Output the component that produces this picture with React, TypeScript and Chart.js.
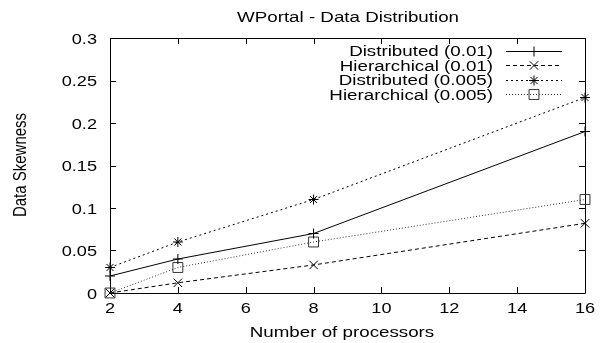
import React, { useEffect, useRef } from "react";
import { Chart, registerables } from "chart.js";

Chart.register(...registerables);

const titleText = "WPortal - Data Distribution";
const xAxisLabel = "Number of processors";
const yAxisLabel = "Data Skewness";
const processors = [2, 4, 8, 16];
const distributed001 = [0.02, 0.04, 0.07, 0.19];
const hierarchical001 = [0, 0.012, 0.033, 0.082];
const distributed0005 = [0.03, 0.06, 0.11, 0.23];
const hierarchical0005 = [0, 0.03, 0.06, 0.11];
const seriesLabels = [
  "Distributed (0.01)",
  "Hierarchical (0.01)",
  "Distributed (0.005)",
  "Hierarchical (0.005)",
];
const xTicks = [2, 4, 6, 8, 10, 12, 14, 16];
const yTicks = [0, 0.05, 0.1, 0.15, 0.2, 0.25, 0.3];
const yTickLabels = ["0", "0.05", "0.1", "0.15", "0.2", "0.25", "0.3"];

const FONT = "'Liberation Sans', Arial, Helvetica, sans-serif";
const SX = 1.21;

const seriesValues = [distributed001, hierarchical001, distributed0005, hierarchical0005];
const seriesDash = [[], [4, 3], [2, 3], [1, 2]];
const seriesColor = ["#000000", "#000000", "#000000", "#333333"];
const seriesMarker = ["cross", "crossRot", "star", "rect"];
const seriesRadius = [5, 6, 5, 7];

function drawMarker(ctx: CanvasRenderingContext2D, kind: string, x: number, y: number, r: number) {
  ctx.save();
  ctx.setLineDash([]);
  ctx.beginPath();
  const d = r * 0.707;
  if (kind === "cross") {
    ctx.moveTo(x - r, y);
    ctx.lineTo(x + r, y);
    ctx.moveTo(x, y - r);
    ctx.lineTo(x, y + r);
  } else if (kind === "crossRot") {
    ctx.moveTo(x - d, y - d);
    ctx.lineTo(x + d, y + d);
    ctx.moveTo(x - d, y + d);
    ctx.lineTo(x + d, y - d);
  } else if (kind === "star") {
    ctx.moveTo(x - r, y);
    ctx.lineTo(x + r, y);
    ctx.moveTo(x, y - r);
    ctx.lineTo(x, y + r);
    ctx.moveTo(x - d, y - d);
    ctx.lineTo(x + d, y + d);
    ctx.moveTo(x - d, y + d);
    ctx.lineTo(x + d, y - d);
  } else {
    ctx.rect(x - d, y - d, 2 * d, 2 * d);
  }
  ctx.stroke();
  ctx.restore();
}

function text(
  ctx: CanvasRenderingContext2D,
  s: string,
  x: number,
  y: number,
  align: CanvasTextAlign,
  size: number,
  rotate = false
) {
  ctx.save();
  ctx.translate(x, y);
  ctx.scale(SX, 1);
  if (rotate) ctx.rotate(-Math.PI / 2);
  ctx.font = `${size}px ${FONT}`;
  ctx.fillStyle = "#000";
  ctx.textAlign = align;
  ctx.textBaseline = "alphabetic";
  ctx.fillText(s, 0, 0);
  ctx.restore();
}

const framePlugin = {
  id: "gnuFrame",
  beforeDatasetsDraw(chart: any) {
    const { ctx, chartArea } = chart;
    const { left, right, top, bottom } = chartArea;
    const xs = chart.scales.x;
    const ys = chart.scales.y;
    ctx.save();
    ctx.strokeStyle = "#000";
    ctx.lineWidth = 1;
    ctx.setLineDash([]);
    ctx.beginPath();
    ctx.rect(Math.round(left) + 0.5, Math.round(top) + 0.5, Math.round(right - left), Math.round(bottom - top));
    const L = 6;
    xTicks.forEach((v) => {
      const px = Math.round(xs.getPixelForValue(v)) + 0.5;
      ctx.moveTo(px, bottom);
      ctx.lineTo(px, bottom - L);
      ctx.moveTo(px, top);
      ctx.lineTo(px, top + L);
    });
    yTicks.forEach((v) => {
      const py = Math.round(ys.getPixelForValue(v)) + 0.5;
      ctx.moveTo(left, py);
      ctx.lineTo(left + L, py);
      ctx.moveTo(right, py);
      ctx.lineTo(right - L, py);
    });
    ctx.stroke();
    ctx.restore();

    // tick labels
    xTicks.forEach((v) => {
      text(ctx, String(v), xs.getPixelForValue(v), 313, "center", 15);
    });
    yTicks.forEach((v, i) => {
      text(ctx, yTickLabels[i], 97, ys.getPixelForValue(v) + 5.5, "right", 15);
    });
    // title and axis titles
    text(ctx, titleText, 348, 22, "center", 15.5);
    text(ctx, xAxisLabel, 342, 337, "center", 15.5);
    text(ctx, yAxisLabel, 26, 165, "center", 15, true);
  },
  afterDatasetsDraw(chart: any) {
    const { ctx } = chart;
    ctx.save();
    seriesLabels.forEach((label, i) => {
      const y = 50.5 + i * 14.5;
      text(ctx, label, 493, y + 5.5, "right", 15.5);
      ctx.strokeStyle = seriesColor[i];
      ctx.lineWidth = 1;
      ctx.setLineDash(seriesDash[i]);
      ctx.beginPath();
      ctx.moveTo(506, Math.round(y) + 0.5);
      ctx.lineTo(562, Math.round(y) + 0.5);
      ctx.stroke();
      drawMarker(ctx, seriesMarker[i], 534, Math.round(y) + 0.5, seriesRadius[i]);
    });
    ctx.restore();
  },
};

export default function App() {
  const ref = useRef<HTMLCanvasElement | null>(null);
  useEffect(() => {
    document.body.style.margin = "0";
    const canvas = ref.current!;
    const chart = new Chart(canvas, {
      type: "line",
      data: {
        datasets: seriesLabels.map((label, i) => ({
          label,
          data: processors.map((x, j) => ({ x, y: seriesValues[i][j] })),
          borderColor: seriesColor[i],
          borderWidth: 1,
          borderDash: seriesDash[i],
          pointStyle: seriesMarker[i],
          pointRadius: seriesRadius[i],
          pointBorderColor: seriesColor[i],
          pointBackgroundColor: "rgba(0,0,0,0)",
          pointBorderWidth: 1,
          fill: false,
          tension: 0,
          clip: false,
        })),
      },
      options: {
        responsive: false,
        animation: false,
        layout: { padding: { left: 0, right: 21, top: 38, bottom: 0 } },
        plugins: {
          legend: { display: false },
          title: { display: false },
          tooltip: { enabled: false },
        },
        scales: {
          x: {
            type: "linear",
            min: 2,
            max: 16,
            grid: { display: false, drawTicks: false },
            border: { display: false },
            ticks: { display: false, stepSize: 2 },
            afterBuildTicks: (s: any) => {
              s.ticks = xTicks.map((v) => ({ value: v }));
            },
            afterFit: (s: any) => {
              s.height = 50;
            },
          },
          y: {
            type: "linear",
            min: 0,
            max: 0.3,
            grid: { display: false, drawTicks: false },
            border: { display: false },
            ticks: { display: false },
            afterBuildTicks: (s: any) => {
              s.ticks = yTicks.map((v) => ({ value: v }));
            },
            afterFit: (s: any) => {
              s.width = 110;
            },
          },
        },
      },
      plugins: [framePlugin],
    } as any);
    return () => chart.destroy();
  }, []);
  return (
    <div style={{ position: "fixed", left: 0, top: 0, width: 606, height: 343, background: "#fff" }}>
      <canvas ref={ref} width={606} height={343} style={{ display: "block" }} />
    </div>
  );
}
